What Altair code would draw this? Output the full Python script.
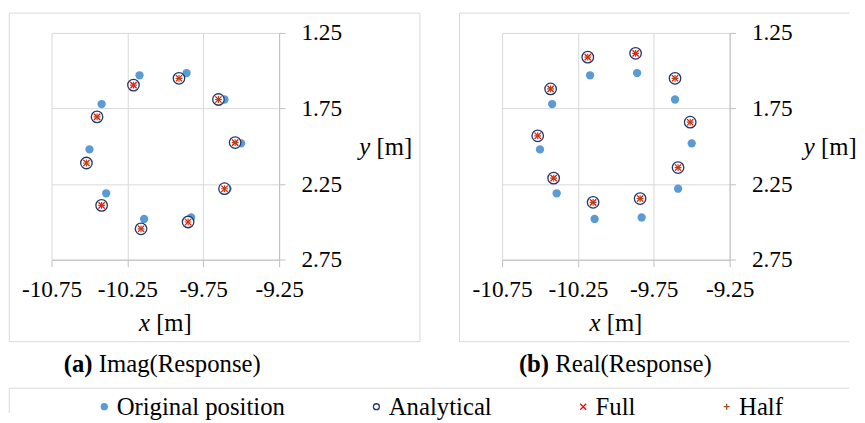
import altair as alt
import pandas as pd

FONT = "Liberation Serif"

series_names = ["Original position", "Analytical", "Full", "Half"]

x_ticks = [-10.75, -10.25, -9.75, -9.25]
y_ticks = [1.25, 1.75, 2.25, 2.75]

# Original positions (same in both panels)
orig_x = [-10.17, -9.86, -9.61, -9.50, -9.59, -9.83, -10.14, -10.39, -10.50, -10.42]
orig_y = [1.53, 1.515, 1.69, 1.98, 2.28, 2.47, 2.48, 2.31, 2.02, 1.72]

# (a) Imag(Response)
imag_ana_x = [-10.21, -9.91, -9.65, -9.54, -9.61, -9.85, -10.16, -10.42, -10.52, -10.45]
imag_ana_y = [1.595, 1.55, 1.69, 1.975, 2.28, 2.50, 2.545, 2.39, 2.11, 1.805]
imag_full_x = [-10.21, -9.91, -9.65, -9.54, -9.61, -9.85, -10.16, -10.42, -10.52, -10.45]
imag_full_y = [1.595, 1.55, 1.69, 1.975, 2.28, 2.50, 2.545, 2.39, 2.11, 1.805]
imag_half_x = [-10.21, -9.91, -9.65, -9.54, -9.61, -9.85, -10.16, -10.42, -10.52, -10.45]
imag_half_y = [1.595, 1.55, 1.69, 1.975, 2.28, 2.50, 2.545, 2.39, 2.11, 1.805]

# (b) Real(Response)
real_ana_x = [-10.185, -9.87, -9.61, -9.51, -9.59, -9.84, -10.15, -10.41, -10.515, -10.43]
real_ana_y = [1.41, 1.385, 1.55, 1.84, 2.14, 2.345, 2.37, 2.21, 1.93, 1.62]
real_full_x = [-10.185, -9.87, -9.61, -9.51, -9.59, -9.84, -10.15, -10.41, -10.515, -10.43]
real_full_y = [1.41, 1.385, 1.55, 1.84, 2.14, 2.345, 2.37, 2.21, 1.93, 1.62]
real_half_x = [-10.185, -9.87, -9.61, -9.51, -9.59, -9.84, -10.15, -10.41, -10.515, -10.43]
real_half_y = [1.41, 1.385, 1.55, 1.84, 2.14, 2.345, 2.37, 2.21, 1.93, 1.62]

fill_range = ["#5B9BD5", "white", "transparent", "transparent"]
stroke_range = ["#5B9BD5", "#1F3864", "#FF0000", "#A34E17"]
shape_range = ["circle", "circle", "M-1,-1L1,1M-1,1L1,-1", "M-1,0L1,0M0,-1L0,1"]
sizes = [70, 135, 40, 48]
stroke_widths = [0, 1.3, 1.2, 1.2]


def make_df(pairs):
    rows = []
    for name, (xs, ys) in zip(series_names, pairs):
        for xv, yv in zip(xs, ys):
            rows.append({"series": name, "x": xv, "y": yv})
    return pd.DataFrame(rows)


df_a = make_df([(orig_x, orig_y), (imag_ana_x, imag_ana_y),
                (imag_full_x, imag_full_y), (imag_half_x, imag_half_y)])
df_b = make_df([(orig_x, orig_y), (real_ana_x, real_ana_y),
                (real_full_x, real_full_y), (real_half_x, real_half_y)])

W, H = 230, 229.3

legend = alt.Legend(
    title=None, orient="none", legendX=35.8, legendY=365, direction="horizontal",
    labelFont=FONT, labelFontSize=25, labelColor="black", symbolSize=36,
    symbolStrokeWidth=1.3, columnPadding=74, labelOffset=0, labelLimit=400,
    padding=0, symbolOffset=5,
)

x_axis = alt.Axis(
    values=x_ticks, grid=True, gridColor="#D9D9D9", domainColor="#BFBFBF",
    tickColor="#BFBFBF", tickSize=7, labelFont=FONT, labelFontSize=23.5,
    labelColor="black", labelPadding=23, labelBaseline="middle",
    labelFlush=False, labelOverlap=False, title=None,
    labelExpr="datum.value < 0 ? '-' + format(-datum.value, '.2f') : format(datum.value, '.2f')",
)
y_axis = alt.Axis(
    orient="right", values=y_ticks, grid=True, gridColor="#D9D9D9",
    domainColor="#BFBFBF", tickColor="#BFBFBF", tickSize=6, labelFont=FONT,
    labelFontSize=23.5, labelColor="black", labelPadding=16, format=".2f",
    labelFlush=False, labelOverlap=False, title=None,
)
x_scale = alt.Scale(domain=[x_ticks[0], x_ticks[-1]], nice=False, zero=False)
y_scale = alt.Scale(domain=[y_ticks[0], y_ticks[-1]], reverse=True, nice=False, zero=False)

one = pd.DataFrame({"k": [0]})


def panel(df, tag, label, title_y_x, is_a):
    layers = []
    for i, name in enumerate(series_names):
        layers.append(
            alt.Chart(df).transform_filter(alt.datum.series == name)
            .mark_point(size=sizes[i], strokeWidth=stroke_widths[i], opacity=1)
            .encode(
                x=alt.X("x:Q", scale=x_scale, axis=x_axis),
                y=alt.Y("y:Q", scale=y_scale, axis=y_axis),
                fill=alt.Fill("series:N", scale=alt.Scale(domain=series_names, range=fill_range), legend=legend),
                stroke=alt.Stroke("series:N", scale=alt.Scale(domain=series_names, range=stroke_range), legend=legend),
                shape=alt.Shape("series:N", scale=alt.Scale(domain=series_names, range=shape_range), legend=legend),
            )
        )
    base = alt.Chart(one)
    txt = dict(font=FONT, fontSize=25, color="black", align="left", baseline="middle")
    deco = [
        base.mark_text(text="x", fontStyle="italic", **txt).encode(x=alt.value(88.3), y=alt.value(293)),
        base.mark_text(text="[m]", **txt).encode(x=alt.value(105.7), y=alt.value(293)),
        base.mark_text(text="y", fontStyle="italic", **txt).encode(x=alt.value(title_y_x), y=alt.value(115)),
        base.mark_text(text="[m]", **txt).encode(x=alt.value(title_y_x + 17.4), y=alt.value(115)),
    ]
    if is_a:
        deco += [
            base.mark_text(text=tag, fontWeight="bold", **txt).encode(x=alt.value(12.3), y=alt.value(335)),
            base.mark_text(text=label, **txt).encode(x=alt.value(47.7), y=alt.value(335)),
            base.mark_rect(fill="transparent", stroke="#D9D9D9", strokeWidth=1).encode(
                x=alt.value(-42.7), x2=alt.value(372.3), y=alt.value(-20), y2=alt.value(312)),
            base.mark_rule(color="#D9D9D9", strokeWidth=1).encode(
                x=alt.value(-42.7), x2=alt.value(806.3), y=alt.value(359)),
            base.mark_rule(color="#D9D9D9", strokeWidth=1).encode(
                x=alt.value(-42.7), y=alt.value(359), y2=alt.value(384)),
        ]
    else:
        deco += [
            base.mark_text(text=tag, fontWeight="bold", **txt).encode(x=alt.value(17), y=alt.value(335)),
            base.mark_text(text=label, **txt).encode(x=alt.value(53.8), y=alt.value(335)),
            base.mark_rule(color="#D9D9D9", strokeWidth=1).encode(
                x=alt.value(-43), x2=alt.value(351), y=alt.value(-20)),
            base.mark_rule(color="#D9D9D9", strokeWidth=1).encode(
                x=alt.value(-43), x2=alt.value(351), y=alt.value(312)),
            base.mark_rule(color="#D9D9D9", strokeWidth=1).encode(
                x=alt.value(-43), y=alt.value(-20), y2=alt.value(312)),
        ]
    return alt.layer(*deco, *layers).properties(width=W, height=H)


pa = panel(df_a, "(a)", "Imag(Response)", 311, True)
pb = panel(df_b, "(b)", "Real(Response)", 305, False)

chart = (
    alt.hconcat(pa, pb, spacing=225.3, bounds="flush")
    .properties(padding={"left": 0, "top": 2, "right": 0, "bottom": 0}, background="white")
    .configure(font=FONT)
    .configure_view(strokeWidth=0)
)

chart.save("out.html", embed_options={"renderer": "svg", "actions": False})
